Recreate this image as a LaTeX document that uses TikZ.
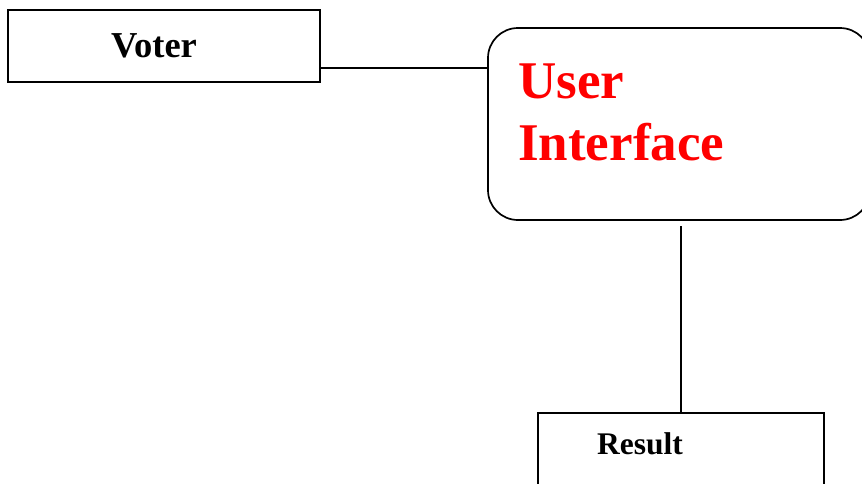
\documentclass[tikz,border=0pt]{standalone}
\usepackage{fontspec}
\setmainfont{Liberation Serif}
\usetikzlibrary{positioning}
\tikzstyle{line} = [draw, line width=1.7pt]
\tikzstyle{block} = [draw, rectangle, line width=1.7pt, inner sep=0pt]
\tikzstyle{cloud} = [draw, rectangle, rounded corners=30pt, line width=1.7pt, inner sep=0pt]

\begin{document}
\begin{tikzpicture}[x=1pt, y=-1pt]
    \useasboundingbox (0,0) rectangle (862,483);
    \clip (0,0) rectangle (862,483);
        \node[block, minimum width=312pt, minimum height=72pt, font=\bfseries\fontsize{36.5}{40}\selectfont] (voter) at (164,46) {\hspace*{-20pt}Voter};
        \node[cloud, minimum width=382pt, minimum height=192pt] (ui) at (679,124) {};
        \node[anchor=north west, inner sep=0pt, align=left, text=red, font=\bfseries\fontsize{53}{62}\selectfont] (uitext) at (518,64) {User\\Interface};
        \node[block, minimum width=286pt, minimum height=100pt, anchor=north west] (result) at (537,412) {};
        \node[font=\bfseries\fontsize{31.5}{36}\selectfont, inner sep=0pt] (restext) at (640,444) {Result};
        \path[line] ([yshift=-22pt]voter.east) -- ([yshift=-22pt]voter.east -| ui.west);
        \path[line] (result.north) -- ([yshift=-5pt]result.north |- ui.south);
    \end{tikzpicture}
\end{document}
